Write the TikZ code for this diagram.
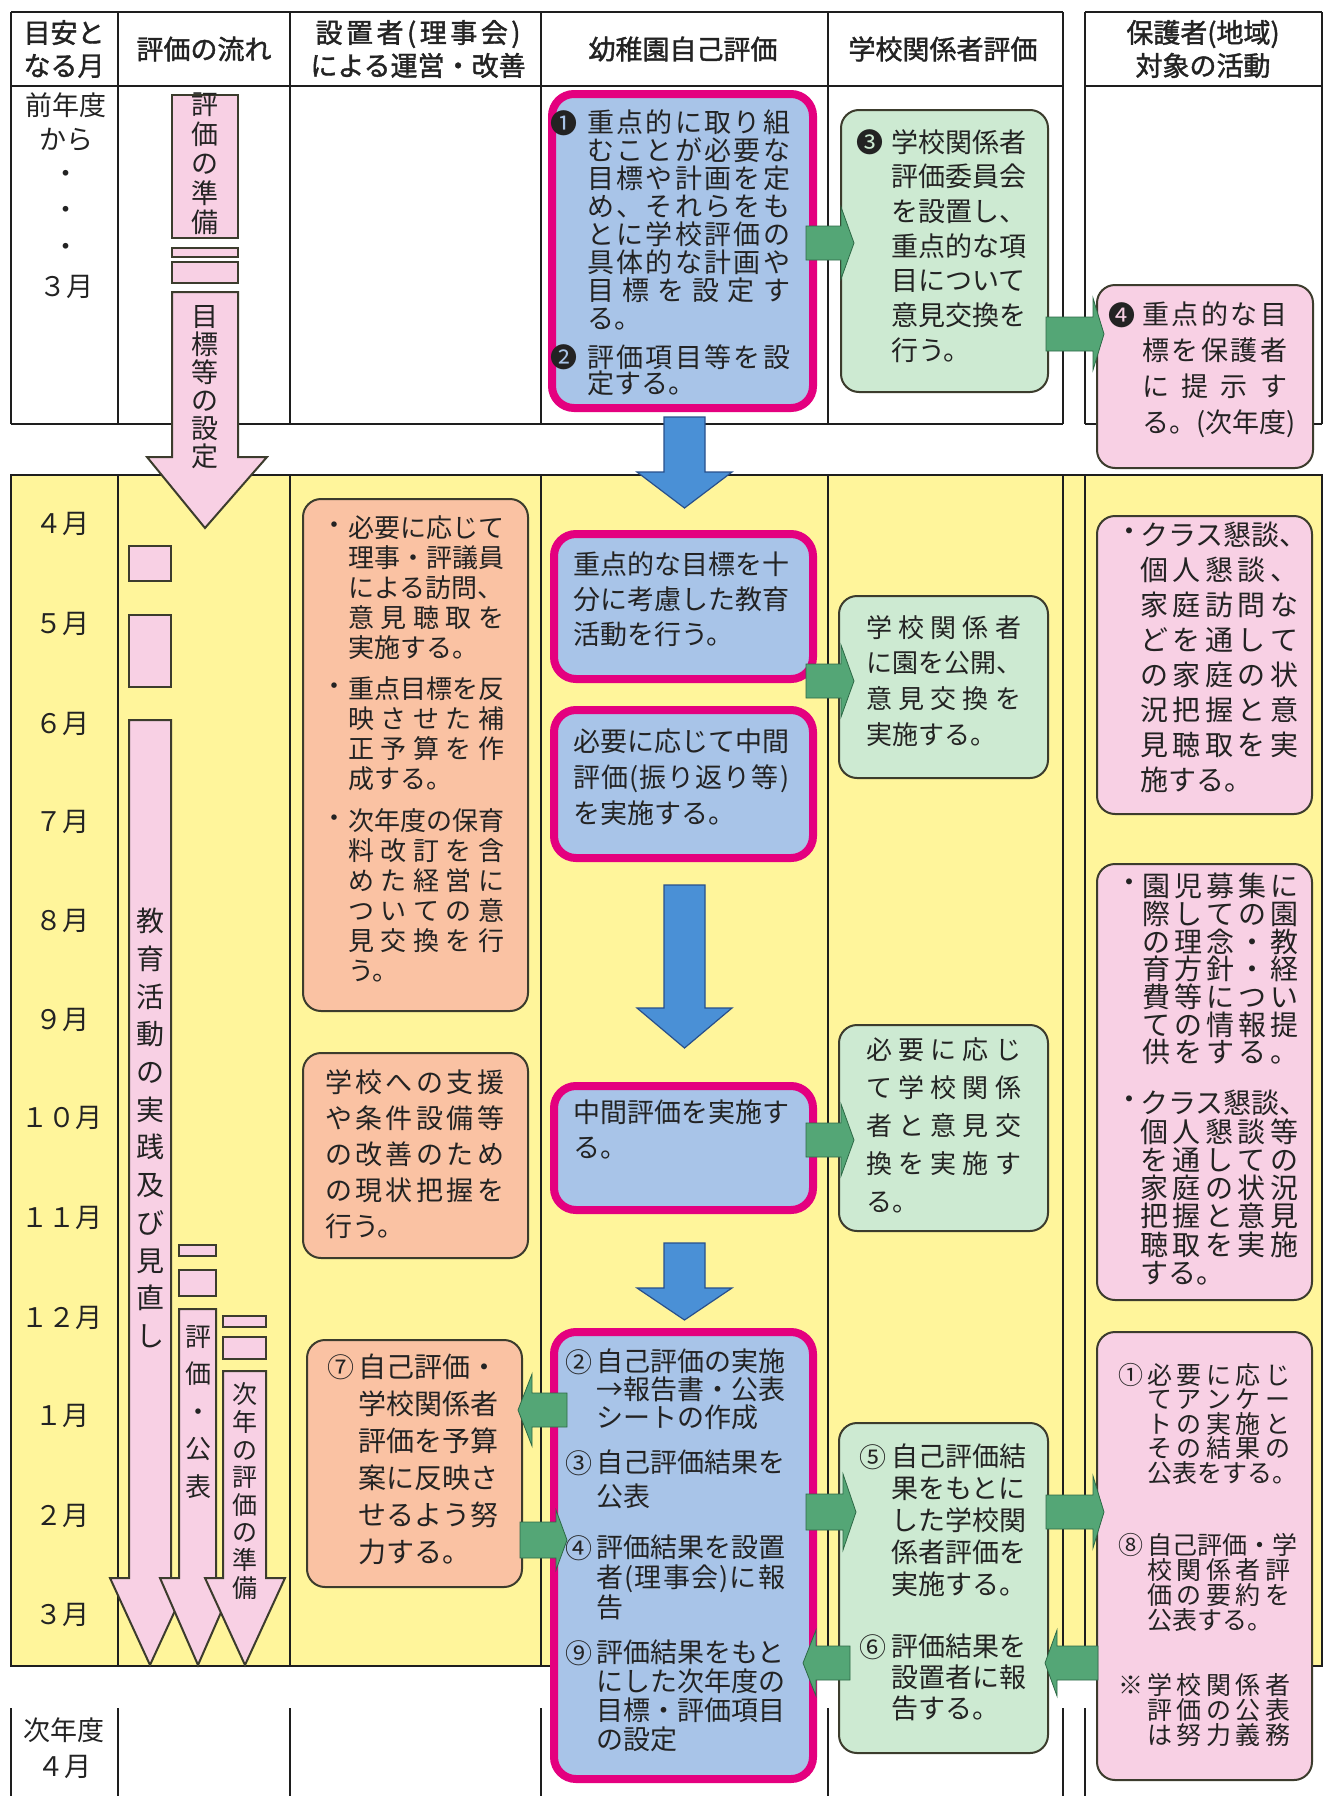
\documentclass[tikz,border=0pt]{standalone}
\usepackage{fontspec}
\setmainfont{Noto Sans CJK JP}
\newfontfamily\hfont{Noto Sans CJK JP}[FakeBold=1.5]
\lineskiplimit=-100pt
\newcommand\fs[2]{\fontsize{#1}{#2}\selectfont}
\newcommand\SP[2]{\hbox to #1pt{\spA#2\relax}}
\def\spA#1{#1\spB}
\def\spB#1{\ifx\relax#1\else\hfil#1\expandafter\spB\fi}
\definecolor{yel}{RGB}{255,245,155}
\definecolor{pnk}{RGB}{248,208,228}
\definecolor{blu}{RGB}{168,196,232}
\definecolor{mag}{RGB}{228,0,127}
\definecolor{grn}{RGB}{205,234,210}
\definecolor{org}{RGB}{250,194,163}
\definecolor{garr}{RGB}{84,166,118}
\definecolor{garrd}{RGB}{45,105,70}
\definecolor{barr}{RGB}{74,144,214}
\definecolor{barrd}{RGB}{40,80,140}
\definecolor{lnc}{RGB}{30,30,30}
\definecolor{txc}{RGB}{35,35,35}
\definecolor{bdc}{RGB}{60,60,45}
\tikzset{
 tline/.style={line width=2.5pt, draw=lnc},
 magbox/.style={draw=mag, line width=8pt, fill=blu, rounded corners=22pt, inner sep=0pt, outer sep=0pt},
 grnbox/.style={draw=bdc, line width=2pt, fill=grn, rounded corners=18pt, inner sep=0pt},
 orgbox/.style={draw=bdc, line width=2pt, fill=org, rounded corners=18pt, inner sep=0pt},
 pnkbox/.style={draw=bdc, line width=2pt, fill=pnk, rounded corners=18pt, inner sep=0pt},
 pbar/.style={draw=bdc, line width=2pt, fill=pnk},
 garrow/.style={fill=garr, draw=garrd, line width=0.8pt},
 barrow/.style={fill=barr, draw=barrd, line width=1.2pt},
 tx/.style={inner sep=0pt, anchor=north west, align=left, text=txc},
 num/.style={inner sep=0pt, anchor=center, text=txc},
 vt/.style={inner sep=0pt, align=center, text=txc},
 hd/.style={inner sep=0pt, align=center, text=txc, font=\hfont\fs{27}{33}},
 mo/.style={inner sep=0pt, text=txc, font=\fs{27}{33}},
}
\newcommand\bx[6]{\node[#2, minimum width={#5-#3}, minimum height={#6-#4}] (#1) at ({(#3+#5)/2},{(#4+#6)/2}) {};}
\newcommand\bluearrow[7]{\draw[barrow] (#1,#3) -- (#2,#3) -- (#2,#4) -- (#6,#4) -- ({(#5+#6)/2},#7) -- (#5,#4) -- (#1,#4) -- cycle;}
\newcommand\grarrow[6]{\draw[garrow] (#1,{#4-#5}) -- (#2,{#4-#5}) -- (#2,{#4-#6}) -- (#3,#4) -- (#2,{#4+#6}) -- (#2,{#4+#5}) -- (#1,{#4+#5}) -- cycle;}
\begin{document}
\begin{tikzpicture}[x=1pt,y=-1pt]
\useasboundingbox (0,0) rectangle (1324,1796);
\fill[white] (0,0) rectangle (1324,1796);
% ---------- table ----------
\fill[yel] (11,475) rectangle (1322,1666);
\draw[tline] (11,475) rectangle (1322,1666);
\foreach \x in {118,290,541,828,1063,1085} \draw[tline] (\x,475) -- (\x,1666);
\draw[tline] (11,12) -- (1063,12);
\draw[tline] (1085,12) -- (1322,12);
\draw[tline] (11,86) -- (1063,86);
\draw[tline] (1085,86) -- (1322,86);
\draw[tline] (11,424) -- (1063,424);
\draw[tline] (1085,424) -- (1322,424);
\foreach \x in {11,118,290,541,828,1063,1085,1322} \draw[tline] (\x,12) -- (\x,424);
\foreach \x in {11,118,290,541,828,1063,1085} \draw[tline] (\x,1708) -- (\x,1796);
% ---------- header ----------
\node[hd] (h0) at (64,49) {目安と\\なる月};
\node[hd] (h1) at (204,49) {評価の流れ};
\node[hd] (h2) at (418,49) {\SP{205}{設置者(理事会)}\\による運営・改善};
\node[hd] (h3) at (683,49) {幼稚園自己評価};
\node[hd] (h4) at (943,49) {学校関係者評価};
\node[hd] (h6) at (1203,49) {保護者(地域)\\対象の活動};
% ---------- months ----------
\node[mo] (m0a) at (66,105) {前年度};
\node[mo] (m0b) at (66,140) {から};
\node[mo] (m0c) at (66,177) {・};
\node[mo] (m0d) at (66,213) {・};
\node[mo] (m0e) at (66,250) {・};
\node[mo] (m0f) at (66,287) {３月};
\node[mo] (m4) at (62,524) {４月};
\node[mo] (m5) at (62,624) {５月};
\node[mo] (m6) at (62,724) {６月};
\node[mo] (m7) at (62,822) {７月};
\node[mo] (m8) at (62,921) {８月};
\node[mo] (m9) at (62,1020) {９月};
\node[mo] (m10) at (62,1118) {１０月};
\node[mo] (m11) at (62,1218) {１１月};
\node[mo] (m12) at (62,1318) {１２月};
\node[mo] (m1) at (62,1416) {１月};
\node[mo] (m2) at (62,1516) {２月};
\node[mo] (m3) at (62,1615) {３月};
\node[mo] (mn1) at (64,1730) {次年度};
\node[mo] (mn2) at (64,1767) {４月};
% ---------- evaluation flow (pink) ----------
\draw[pbar] (172,95) rectangle (238,238);
\draw[pbar] (172,248) rectangle (238,257);
\draw[pbar] (172,262) rectangle (238,283);
\draw[pbar] (172,292) -- (238,292) -- (238,457) -- (267,457) -- (205,528) -- (147,457) -- (172,457) -- cycle;
\draw[pbar] (129,546) rectangle (171,581);
\draw[pbar] (129,615) rectangle (171,687);
\draw[pbar] (129,720) -- (171,720) -- (171,1578) -- (190,1578) -- (150,1665) -- (110,1578) -- (129,1578) -- cycle;
\draw[pbar] (179,1245) rectangle (216,1256);
\draw[pbar] (179,1270) rectangle (216,1296);
\draw[pbar] (179,1309) -- (216,1309) -- (216,1578) -- (236,1578) -- (198,1665) -- (160,1578) -- (179,1578) -- cycle;
\draw[pbar] (223,1316) rectangle (266,1327);
\draw[pbar] (223,1337) rectangle (266,1359);
\draw[pbar] (223,1371) -- (266,1371) -- (266,1578) -- (285,1578) -- (245,1665) -- (205,1578) -- (223,1578) -- cycle;
\node[vt, font=\fs{27}{29.5}] (v1) at (205,164) {評\\価\\の\\準\\備};
\node[vt, font=\fs{27}{28}] (v2) at (205,387) {目\\標\\等\\の\\設\\定};
\node[vt, font=\fs{28}{37.7}] (v3) at (150,1128) {教\\育\\活\\動\\の\\実\\践\\及\\び\\見\\直\\し};
\node[vt, font=\fs{26}{37.5}] (v4) at (198,1412) {評\\価\\・\\公\\表};
\node[vt, font=\fs{25}{27.6}] (v5) at (245,1491) {次\\年\\の\\評\\価\\の\\準\\備};
% ---------- boxes ----------
\bx{b1}{magbox}{552}{94}{813}{408}
\bx{b3}{grnbox}{841}{110}{1048}{392}
\bx{b4}{pnkbox}{1097}{285}{1313}{468}
\bx{bA}{magbox}{554}{534}{813}{679}
\bx{bB}{magbox}{554}{710}{813}{858}
\bx{bC}{magbox}{554}{1086}{813}{1210}
\bx{bD}{magbox}{554}{1332}{813}{1779}
\bx{g2}{grnbox}{839}{596}{1048}{778}
\bx{g3}{grnbox}{839}{1025}{1048}{1231}
\bx{g5}{grnbox}{839}{1423}{1048}{1753}
\bx{o1}{orgbox}{303}{499}{528}{1011}
\bx{o2}{orgbox}{303}{1053}{528}{1258}
\bx{o3}{orgbox}{307}{1340}{522}{1587}
\bx{r1}{pnkbox}{1097}{516}{1312}{814}
\bx{r2}{pnkbox}{1097}{864}{1312}{1300}
\bx{r3}{pnkbox}{1097}{1332}{1312}{1780}
% ---------- texts: top ----------
\node[num,font=\fs{27}{28}] (n1) at (564,123) {❶};
\node[tx,font=\fs{27}{28}] (t1) at (587,110) {\SP{203}{重点的に取り組}\\\SP{203}{むことが必要な}\\\SP{203}{目標や計画を定}\\\SP{203}{め、それらをも}\\\SP{203}{とに学校評価の}\\\SP{203}{具体的な計画や}\\\SP{203}{目標を設定す}\\る。};
\node[num,font=\fs{27}{28}] (n2) at (564,357) {❷};
\node[tx,font=\fs{27}{26}] (t2) at (587,344) {\SP{203}{評価項目等を設}\\定する。};
\node[num,font=\fs{27}{28}] (n3) at (870,142) {❸};
\node[tx,font=\fs{27}{34.7}] (t3) at (891,129) {学校関係者\\評価委員会\\を設置し、\\重点的な項\\目について\\意見交換を\\行う。};
\node[num,font=\fs{27}{28}] (n4) at (1122,315) {❹};
\node[tx,font=\fs{27}{35.7}] (t4) at (1142,302) {\SP{145}{重点的な目}\\\SP{145}{標を保護者}\\\SP{145}{に提示す}\\る。(次年度)};
% ---------- texts: kindergarten self-evaluation ----------
\node[tx,font=\fs{27}{35}] (tA) at (573,552) {重点的な目標を十\\分に考慮した教育\\活動を行う。};
\node[tx,font=\fs{27}{36}] (tB) at (573,729) {必要に応じて中間\\\SP{216}{評価(振り返り等)}\\を実施する。};
\node[tx,font=\fs{27}{35}] (tC) at (573,1100) {中間評価を実施す\\る。};
\node[num,font=\fs{27}{28}] (nD1) at (579,1362) {②};
\node[tx,font=\fs{27}{28}] (tD1) at (596,1349) {自己評価の実施\\→報告書・公表\\シートの作成};
\node[num,font=\fs{27}{28}] (nD2) at (579,1463) {③};
\node[tx,font=\fs{27}{34}] (tD2) at (596,1450) {自己評価結果を\\公表};
\node[num,font=\fs{27}{28}] (nD3) at (579,1548) {④};
\node[tx,font=\fs{27}{30}] (tD3) at (596,1535) {評価結果を設置\\\SP{189}{者(理事会)に報}\\告};
\node[num,font=\fs{27}{28}] (nD4) at (579,1653) {⑨};
\node[tx,font=\fs{27}{29}] (tD4) at (596,1640) {評価結果をもと\\にした次年度の\\目標・評価項目\\の設定};
% ---------- texts: school stakeholders ----------
\node[tx,font=\fs{26}{35.7}] (tG2) at (866,615) {\SP{155}{学校関係者}\\に園を公開、\\\SP{155}{意見交換を}\\実施する。};
\node[tx,font=\fs{26}{38}] (tG3) at (866,1037) {\SP{155}{必要に応じ}\\\SP{155}{て学校関係}\\\SP{155}{者と意見交}\\\SP{155}{換を実施す}\\る。};
\node[num,font=\fs{27}{28}] (nG5) at (873,1457) {⑤};
\node[tx,font=\fs{27}{32}] (tG5) at (891,1444) {自己評価結\\果をもとに\\した学校関\\係者評価を\\実施する。};
\node[num,font=\fs{27}{28}] (nG6) at (873,1647) {⑥};
\node[tx,font=\fs{27}{31}] (tG6) at (891,1634) {評価結果を\\設置者に報\\告する。};
% ---------- texts: founder ----------
\node[num,font=\fs{26}{30}] (bo1) at (334,528) {・};
\node[tx,font=\fs{26}{30}] (tO1a) at (348,515) {必要に応じて\\理事・評議員\\による訪問、\\\SP{156}{意見聴取を}\\実施する。};
\node[num,font=\fs{26}{30}] (bo2) at (334,689) {・};
\node[tx,font=\fs{26}{30}] (tO1b) at (348,676) {重点目標を反\\\SP{156}{映させた補}\\\SP{156}{正予算を作}\\成する。};
\node[num,font=\fs{26}{30}] (bo3) at (334,821) {・};
\node[tx,font=\fs{26}{30}] (tO1c) at (348,808) {次年度の保育\\\SP{156}{料改訂を含}\\\SP{156}{めた経営に}\\\SP{156}{ついての意}\\\SP{156}{見交換を行}\\う。};
\node[tx,font=\fs{27}{36}] (tO2) at (325,1069) {\SP{179}{学校への支援}\\\SP{179}{や条件設備等}\\\SP{179}{の改善のため}\\\SP{179}{の現状把握を}\\行う。};
\node[num,font=\fs{27}{28}] (nO3) at (341,1367) {⑦};
\node[tx,font=\fs{28}{37}] (tO3) at (358,1354) {自己評価・\\学校関係者\\評価を予算\\案に反映さ\\せるよう努\\力する。};
% ---------- texts: parents ----------
\node[num,font=\fs{28}{35}] (br1) at (1129,535) {・};
\node[tx,font=\fs{28}{35}] (tR1) at (1140,522) {クラス懇談、\\\SP{158}{個人懇談、}\\\SP{158}{家庭訪問な}\\\SP{158}{どを通して}\\\SP{158}{の家庭の状}\\\SP{158}{況把握と意}\\\SP{158}{見聴取を実}\\施する。};
\node[num,font=\fs{28}{28}] (br2) at (1129,886) {・};
\node[tx,font=\fs{28}{27.7}] (tR2a) at (1142,873) {\SP{156}{園児募集に}\\\SP{156}{際しての園}\\\SP{156}{の理念・教}\\\SP{156}{育方針・経}\\\SP{156}{費等につい}\\\SP{156}{ての情報提}\\\SP{156}{供をする。}};
\node[num,font=\fs{28}{28}] (br3) at (1129,1103) {・};
\node[tx,font=\fs{28}{28.3}] (tR2b) at (1140,1090) {クラス懇談、\\\SP{158}{個人懇談等}\\\SP{158}{を通しての}\\\SP{158}{家庭の状況}\\\SP{158}{把握と意見}\\\SP{158}{聴取を実施}\\する。};
\node[num,font=\fs{25}{25}] (nR3a) at (1131,1375) {①};
\node[tx,font=\fs{25}{24.5}] (tR3a) at (1147,1363) {\SP{143}{必要に応じ}\\\SP{143}{てアンケー}\\\SP{143}{トの実施と}\\\SP{143}{その結果の}\\公表をする。};
\node[num,font=\fs{25}{25}] (nR3b) at (1131,1545) {⑧};
\node[tx,font=\fs{25}{25}] (tR3b) at (1147,1533) {自己評価・学\\\SP{143}{校関係者評}\\\SP{143}{価の要約を}\\公表する。};
\node[num,font=\fs{25}{25}] (nR3c) at (1131,1685) {※};
\node[tx,font=\fs{25}{25}] (tR3c) at (1147,1673) {\SP{143}{学校関係者}\\\SP{143}{評価の公表}\\\SP{143}{は努力義務}};
% ---------- arrows ----------
\bluearrow{664}{705}{417}{472}{637}{732}{508}
\bluearrow{664}{705}{885}{1008}{637}{732}{1048}
\bluearrow{664}{705}{1243}{1288}{637}{732}{1320}
\grarrow{806}{841}{854}{243}{17}{36}
\grarrow{1046}{1093}{1104}{334}{17}{36}
\grarrow{806}{841}{854}{681}{17}{36}
\grarrow{806}{841}{854}{1140}{17}{36}
\grarrow{567}{532}{518}{1410}{17}{36}
\grarrow{520}{556}{567}{1540}{18}{30}
\grarrow{806}{843}{856}{1512}{18}{38}
\grarrow{850}{816}{803}{1663}{17}{33}
\grarrow{1046}{1093}{1104}{1512}{17}{36}
\grarrow{1098}{1057}{1045}{1663}{17}{33}
\end{tikzpicture}
\end{document}
